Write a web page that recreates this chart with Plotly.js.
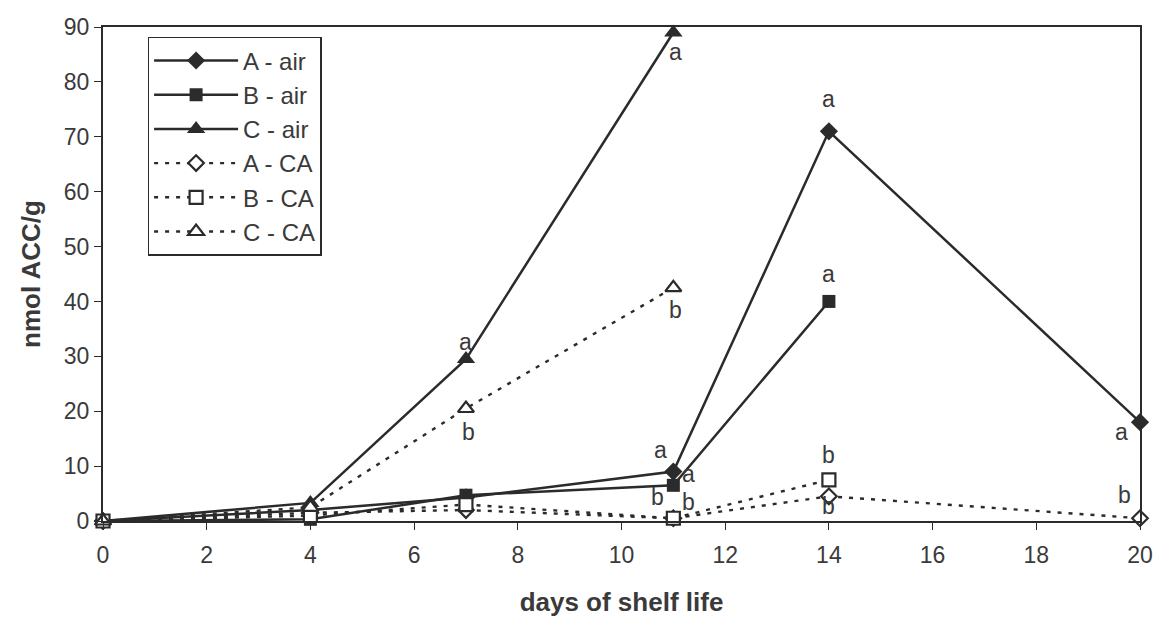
<!DOCTYPE html>
<html><head><meta charset="utf-8">
<script src="https://cdn.plot.ly/plotly-3.0.1.min.js"></script>
<style>body{margin:0;background:#fff}#c{width:1157px;height:618px}</style>
</head><body><div id="c"></div>
<script>
const seriesNames = ["A - air","B - air","C - air","A - CA","B - CA","C - CA"];
const days_A = [0,4,7,11,14,20];
const days_B = [0,4,7,11,14];
const days_C = [0,4,7,11];
const A_air = [0,2,4.3,9,71,18];
const B_air = [0,0.3,4.7,6.5,40];
const C_air = [0,3.3,29.5,89];
const A_CA = [0,1.5,2,0.5,4.5,0.5];
const B_CA = [0,1,3,0.5,7.5];
const C_CA = [0,2.5,20.5,42.5];
const letterX = [7,7.05,11.05,11.05,10.75,11.3,10.7,11.3,14,14,14,14,19.65,19.7];
const letterY = [32.6,16.2,85.4,38.4,12.9,8.6,4.4,3.5,76.9,45,12,2.7,16.2,4.7];
const letterT = ["a","b","a","b","a","a","b","b","a","a","b","b","a","b"];
const xTicks = [0,2,4,6,8,10,12,14,16,18,20];
const yTicks = [0,10,20,30,40,50,60,70,80,90];

const ink = "#2b2b2b";
const txt = "#3a3a3a";
function tr(name,x,y,sym,size,dash){
  return {type:"scatter",mode:"lines+markers",name:name,x:x,y:y,cliponaxis:false,
    line:{color:ink,width:dash?2.4:2.5,dash:dash?"4px,7px":"solid"},
    marker:{symbol:sym,size:size,color:dash?"#fff":ink,line:{color:ink,width:dash?2.2:0}}};
}
const data = [
  tr(seriesNames[0],days_A,A_air,"diamond",14,false),
  tr(seriesNames[1],days_B,B_air,"square",13,false),
  tr(seriesNames[2],days_C,C_air,"triangle-up",16,false),
  tr(seriesNames[3],days_A,A_CA,"diamond",12,true),
  tr(seriesNames[4],days_B,B_CA,"square",13,true),
  tr(seriesNames[5],days_C,C_CA,"triangle-up",14,true)
];
const annotations = letterT.map((t,i)=>({x:letterX[i],y:letterY[i],text:t,showarrow:false,
  font:{family:"Arial, Liberation Sans",size:23,color:txt}}));
const layout = {
  width:1157,height:618,paper_bgcolor:"#fff",plot_bgcolor:"#fff",
  margin:{l:103,r:17,t:27,b:97},
  font:{family:"Arial, Liberation Sans",color:txt},
  showlegend:true,
  legend:{x:0.043,y:0.98,xanchor:"left",yanchor:"top",bgcolor:"#fff",bordercolor:ink,borderwidth:1.5,
    font:{size:24,color:txt},itemwidth:84,tracegroupgap:0,traceorder:"normal"},
  xaxis:{range:[0,20],tickvals:xTicks,ticktext:xTicks.map(String),showgrid:false,zeroline:false,
    showline:true,linecolor:ink,linewidth:2,mirror:true,ticks:"outside",ticklen:7,tickcolor:ink,
    ticklabelstandoff:5,tickfont:{size:23,color:txt},
    title:{text:"<b>days of shelf life</b>",font:{size:26,color:txt},standoff:26}},
  yaxis:{range:[0,90],tickvals:yTicks,ticktext:yTicks.map(String),showgrid:false,zeroline:false,
    showline:true,linecolor:ink,linewidth:2,mirror:true,ticks:"outside",ticklen:7,tickcolor:ink,
    tickfont:{size:23,color:txt},
    title:{text:"<b>nmol ACC/g</b>",font:{size:26,color:txt},standoff:16}},
  yaxis2:{overlaying:"y",side:"left",range:[0,90],tickvals:yTicks,showticklabels:false,showgrid:false,
    zeroline:false,showline:false,ticks:"inside",ticklen:5,tickcolor:ink},
  annotations:annotations
};
Plotly.newPlot("c",data,layout,{displayModeBar:false});
</script></body></html>
